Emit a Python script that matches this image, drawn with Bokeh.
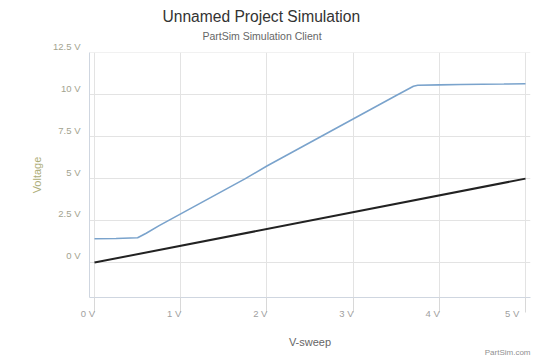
from bokeh.plotting import figure
from bokeh.models import Range1d, FixedTicker, Title
from bokeh.embed import file_html
from bokeh.resources import INLINE

# Data
sweep = [0.0, 0.25, 0.5, 0.6, 0.75, 1.0, 1.25, 1.5, 1.75, 2.0, 2.25, 2.5, 2.75,
         3.0, 3.25, 3.5, 3.7, 3.75, 4.0, 4.25, 4.5, 4.75, 5.0]
v_out = [1.42, 1.43, 1.48, 1.75, 2.2, 2.9, 3.6, 4.3, 5.0, 5.75, 6.45, 7.15, 7.85,
         8.55, 9.25, 9.95, 10.5, 10.56, 10.58, 10.6, 10.62, 10.63, 10.65]
v_in_x = [0.0, 5.0]
v_in = [0.0, 5.0]
x_ticks = [0, 1, 2, 3, 4, 5]
x_labels = ["0 V", "1 V", "2 V", "3 V", "4 V", "5 V"]
y_ticks = [0, 2.5, 5, 7.5, 10, 12.5]
y_labels = ["0 V", "2.5 V", "5 V", "7.5 V", "10 V", "12.5 V"]

FONT = "Liberation Sans"
NB = "\u00a0" * 5  # pushes centred tick text to the left of its tick

p = figure(width=532, height=358, output_backend="svg", toolbar_location=None,
           x_range=Range1d(-0.058, 5.058), y_range=Range1d(-2.08, 12.51),
           min_border_left=89, min_border_right=2, min_border_top=52,
           min_border_bottom=61)
p.outline_line_color = None
p.background_fill_color = "white"
p.border_fill_color = "white"

# grids
p.xgrid.ticker = FixedTicker(ticks=x_ticks)
p.ygrid.ticker = FixedTicker(ticks=y_ticks)
p.xgrid.grid_line_color = "#e3e3e3"
p.ygrid.grid_line_color = "#e3e3e3"

# x axis
xa = p.xaxis[0]
xa.ticker = FixedTicker(ticks=x_ticks)
xa.major_label_overrides = {t: l + NB for t, l in zip(x_ticks, x_labels)}
xa.axis_line_color = "#cfd6e0"
xa.major_tick_line_color = "#d8d8d8"
xa.major_tick_out = 15
xa.major_tick_in = 0
xa.minor_tick_line_color = None
xa.major_label_standoff = -5
xa.major_label_text_font = FONT
xa.major_label_text_font_size = "9.5px"
xa.major_label_text_color = "#a0a0a0"
xa.axis_label = "V-sweep"
xa.axis_label_text_font = FONT
xa.axis_label_text_font_style = "normal"
xa.axis_label_text_font_size = "11px"
xa.axis_label_text_color = "#666666"
xa.axis_label_standoff = 14

# y axis
ya = p.yaxis[0]
ya.ticker = FixedTicker(ticks=y_ticks)
ya.major_label_overrides = {t: l + "\n" for t, l in zip(y_ticks, y_labels)}
ya.axis_line_color = "#cfd6e0"
ya.major_tick_line_color = None
ya.major_tick_out = 0
ya.major_tick_in = 0
ya.minor_tick_line_color = None
ya.major_label_standoff = 9
ya.major_label_text_font = FONT
ya.major_label_text_font_size = "9.5px"
ya.major_label_text_color = "#a3a38f"
ya.axis_label = "Voltage"
ya.axis_label_text_font = FONT
ya.axis_label_text_font_style = "normal"
ya.axis_label_text_font_size = "11px"
ya.axis_label_text_color = "#adad78"
ya.axis_label_standoff = 7

# series
p.line(sweep, v_out, line_color="#7aa3cc", line_width=1.6)
p.line(v_in_x, v_in, line_color="#222222", line_width=2)

# titles
p.add_layout(Title(text="PartSim Simulation Client", align="left", offset=113,
                   text_font=FONT, text_font_size="10.5px", text_font_style="normal",
                   text_color="#666666", standoff=22), "above")
p.add_layout(Title(text="Unnamed Project Simulation", align="left", offset=73,
                   text_font=FONT, text_font_size="15.6px", text_font_style="normal",
                   text_color="#333333", standoff=-16), "above")
p.add_layout(Title(text="PartSim.com", align="right", offset=0,
                   text_font=FONT, text_font_size="8px", text_font_style="normal",
                   text_color="#909090", standoff=-12), "below")

open("out.html", "w").write(file_html(p, INLINE))
